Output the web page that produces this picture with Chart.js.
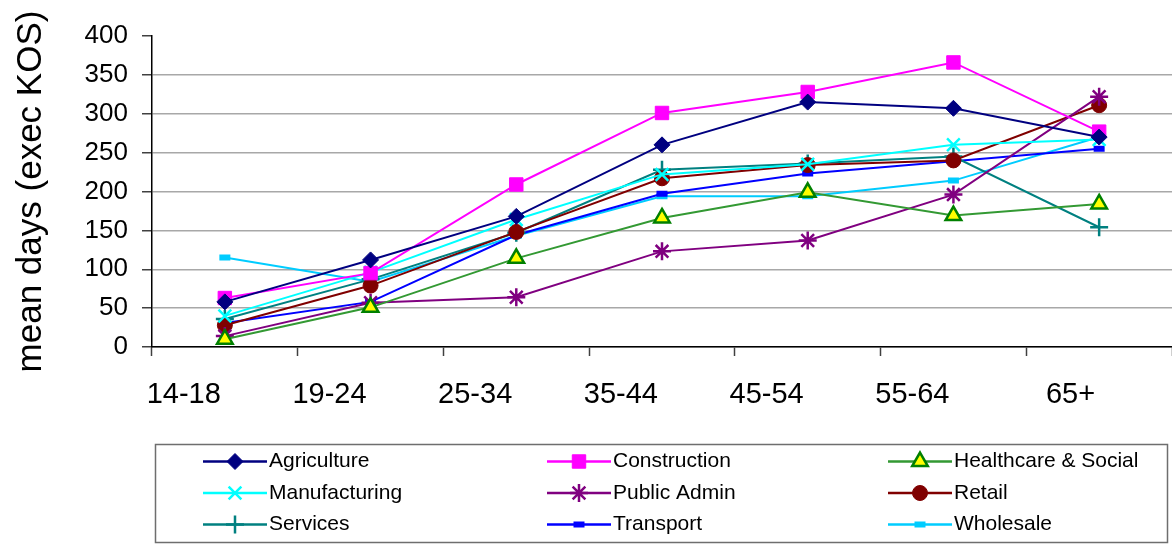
<!DOCTYPE html>
<html>
<head>
<meta charset="utf-8">
<script src="https://cdn.jsdelivr.net/npm/chart.js@4/dist/chart.umd.min.js"></script>
<style>
  html, body { margin: 0; padding: 0; background: #fff; }
  #wrap { width: 1172px; height: 544px; position: relative; }
</style>
</head>
<body>
<div id="wrap"><canvas id="c" width="1172" height="544"></canvas></div>
<script>
// Age bands on the category axis
const ageBands = ['14-18', '19-24', '25-34', '35-44', '45-54', '55-64', '65+'];
const yTicks = [0, 50, 100, 150, 200, 250, 300, 350, 400];

// Mean days per sector and age band
const agriculture   = [58, 112, 168, 260, 315, 307, 270];
const construction  = [63, 95, 209, 301, 328, 366, 277];
const healthcare    = [10, 51, 114, 166, 199, 169, 184];
const manufacturing = [40, 96, 164, 222, 235, 260, 267];
const publicAdmin   = [14, 57, 64, 123, 137, 196, 322];
const retail        = [28, 79, 148, 217, 234, 240, 311];
const services      = [36, 87, 147, 228, 236, 245, 154];
const transport     = [31, 58, 144, 197, 223, 239, 255];
const wholesale     = [115, 84, 143, 194, 194, 214, 270];

function series(label, data, color, style, radius, fill, border, bw) {
  return {
    label: label,
    data: data,
    borderColor: color,
    backgroundColor: color,
    borderWidth: 2,
    pointStyle: style,
    pointRadius: radius,
    pointHoverRadius: radius,
    pointBackgroundColor: fill,
    pointBorderColor: border,
    pointBorderWidth: bw,
    tension: 0,
    fill: false
  };
}

const datasets = [
  series('Agriculture', agriculture, '#000080', 'rectRot', 8, '#000080', '#000080', 1),
  series('Construction', construction, '#FF00FF', 'rect', 9.5, '#FF00FF', '#FF00FF', 1),
  series('Healthcare & Social', healthcare, '#339933', 'triangle', 9, '#FFFF00', '#008000', 2.5),
  series('Manufacturing', manufacturing, '#00FFFF', 'crossRot', 9, '#00FFFF', '#00FFFF', 2.5),
  series('Public Admin', publicAdmin, '#800080', 'star', 9, '#800080', '#800080', 2.5),
  series('Retail', retail, '#800000', 'circle', 7.5, '#800000', '#800000', 1),
  series('Services', services, '#008080', 'cross', 9, '#008080', '#008080', 2.5),
  series('Transport', transport, '#0000FF', 'line', 5.5, '#0000FF', '#0000FF', 6),
  series('Wholesale', wholesale, '#00CCFF', 'line', 5.5, '#00CCFF', '#00CCFF', 6)
];

// Boxed three-column legend under the plot
const gridLegend = {
  id: 'gridLegend',
  afterDraw(chart, args, opts) {
    const ctx = chart.ctx;
    const drawPoint = Chart.helpers && Chart.helpers.drawPoint;
    ctx.save();
    ctx.strokeStyle = '#6e6e6e';
    ctx.lineWidth = 1.5;
    ctx.strokeRect(opts.box.x, opts.box.y, opts.box.w, opts.box.h);
    chart.data.datasets.forEach((ds, i) => {
      const x0 = opts.columns[i % 3];
      const y = opts.rows[Math.floor(i / 3)];
      ctx.strokeStyle = ds.borderColor;
      ctx.lineWidth = 2.5;
      ctx.beginPath();
      ctx.moveTo(x0, y);
      ctx.lineTo(x0 + opts.lineLength, y);
      ctx.stroke();
      ctx.fillStyle = ds.pointBackgroundColor;
      ctx.strokeStyle = ds.pointBorderColor;
      ctx.lineWidth = ds.pointBorderWidth;
      const cx = x0 + opts.lineLength / 2;
      if (drawPoint) {
        drawPoint(ctx, { pointStyle: ds.pointStyle, radius: ds.pointRadius, rotation: 0, borderWidth: ds.pointBorderWidth }, cx, y);
      }
      ctx.fillStyle = '#000';
      ctx.font = opts.font;
      ctx.textAlign = 'left';
      ctx.textBaseline = 'middle';
      ctx.fillText(ds.label, x0 + opts.lineLength + 2, y);
    });
    ctx.restore();
  }
};

new Chart(document.getElementById('c'), {
  type: 'line',
  data: { labels: ageBands, datasets: datasets },
  plugins: [gridLegend],
  options: {
    responsive: false,
    animation: false,
    devicePixelRatio: 1,
    layout: { autoPadding: false, padding: { left: 0, right: 0, top: 36, bottom: 127 } },
    plugins: {
      legend: { display: false },
      tooltip: { enabled: false },
      gridLegend: {
        box: { x: 155.5, y: 444.5, w: 1012, h: 98 },
        columns: [203, 547, 888],
        rows: [461.5, 493, 524.5],
        lineLength: 64,
        font: '21px "Liberation Sans", Arial, sans-serif'
      }
    },
    scales: {
      x: {
        offset: true,
        afterFit(s) { s.height = 70; s.paddingLeft = 0; s.paddingRight = 0; },
        grid: {
          offset: true,
          drawOnChartArea: false,
          drawTicks: true,
          tickLength: 9,
          tickColor: '#404040',
          tickWidth: 1.5
        },
        border: { color: '#000', width: 1.5 },
        ticks: {
          align: 'end',
          labelOffset: -4,
          padding: 22,
          maxRotation: 0,
          autoSkip: false,
          color: '#000',
          font: { family: '"Liberation Sans", Arial, sans-serif', size: 29 }
        }
      },
      y: {
        min: 0,
        max: 400,
        afterFit(s) { s.width = 152; s.paddingTop = 0; s.paddingBottom = 0; },
        afterBuildTicks(s) { s.ticks = yTicks.map(v => ({ value: v })); },
        grid: {
          color: (c) => (c.tick && c.tick.value === 400) ? 'rgba(0,0,0,0)' : '#a8a8a8',
          lineWidth: 1.5,
          drawTicks: true,
          tickLength: 10,
          tickColor: '#404040',
          tickWidth: 1.5
        },
        border: { color: '#000', width: 1.5 },
        ticks: {
          padding: 14,
          color: '#000',
          font: { family: '"Liberation Sans", Arial, sans-serif', size: 26 }
        },
        title: {
          display: true,
          text: 'mean days (exec KOS)',
          color: '#000',
          padding: { top: 10, bottom: 0 },
          font: { family: '"Liberation Sans", Arial, sans-serif', size: 35 }
        }
      }
    }
  }
});
</script>
</body>
</html>
